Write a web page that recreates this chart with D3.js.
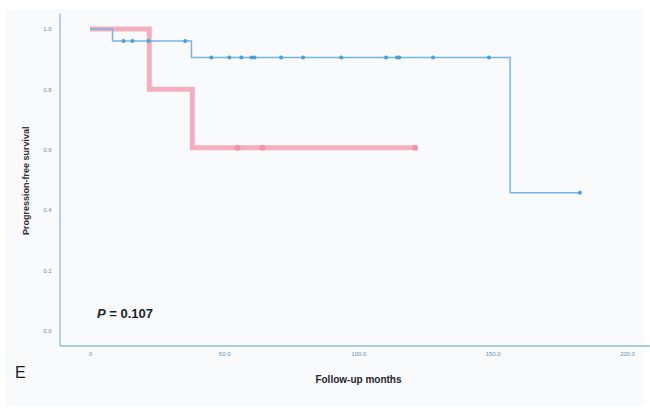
<!DOCTYPE html>
<html>
<head>
<meta charset="utf-8">
<script src="https://cdn.jsdelivr.net/npm/d3@7"></script>
<style>
  html, body { margin: 0; padding: 0; background: #ffffff; }
  svg { display: block; }
  .tick text { font-family: 'Liberation Sans', Arial, sans-serif; }
</style>
</head>
<body>
<div id="chart"></div>
<script>
// group 1 (blue)
const blueEventTimes = [0, 8.4, 37.8, 156.5];
const blueSurvival = [1.0, 0.96, 0.905, 0.457];
const blueEnd = 182.5;
const blueCensored = [12.5, 15.8, 21.8, 35.5, 45.2, 51.9, 56.4, 60.1, 61.3, 71.2, 79.4, 93.6, 110.3, 114.4, 115.2, 127.8, 148.6, 182.5];

// group 2 (red)
const redEventTimes = [0, 22.1, 38.1];
const redSurvival = [1.0, 0.8, 0.606];
const redEnd = 121.1;
const redCensored = [54.9, 64.2, 121.1];

const xTicks = [0, 50, 100, 150, 200];
const yTicks = [0, 0.2, 0.4, 0.6, 0.8, 1.0];

const width = 650, height = 411;
const margin = { left: 59.5, right: 0, top: 13, bottom: 65 };

const svg = d3.select('#chart').append('svg')
    .attr('width', width)
    .attr('height', height);

svg.append('rect')
    .attr('x', 6).attr('y', 9)
    .attr('width', width - 12).attr('height', height - 14)
    .attr('fill', '#f9fafc');

const x = d3.scaleLinear()
    .domain([-11.35, 208.6])
    .range([margin.left, width - margin.right]);
const y = d3.scaleLinear()
    .domain([-0.05, 1.053])
    .range([height - margin.bottom - 0.5, margin.top]);

const axisColor = '#8fbcd8';
const tickColor = '#6f90ad';

// axes
const xAxis = svg.append('g')
    .attr('transform', `translate(0,${y(-0.05)})`)
    .call(d3.axisBottom(x).tickValues(xTicks).tickSize(0).tickPadding(6)
        .tickFormat(d => d === 0 ? '0' : d3.format('.1f')(d)));
const yAxis = svg.append('g')
    .attr('transform', `translate(${x(-11.35)},0)`)
    .call(d3.axisLeft(y).tickValues(yTicks).tickSize(0).tickPadding(8)
        .tickFormat(d3.format('.1f')));
[xAxis, yAxis].forEach(a => {
    a.select('.domain').attr('stroke', axisColor).attr('stroke-width', 1.3);
    a.selectAll('.tick text')
        .attr('fill', tickColor)
        .style('font-size', '6px');
});

function steps(times, surv, end) {
    const pts = times.map((t, i) => ({ t: t, s: surv[i] }));
    pts.push({ t: end, s: surv[surv.length - 1] });
    return pts;
}
function survAt(times, surv, t) {
    let s = surv[0];
    times.forEach((tt, i) => { if (tt <= t) s = surv[i]; });
    return s;
}

const line = d3.line()
    .x(d => x(d.t))
    .y(d => y(d.s))
    .curve(d3.curveStepAfter);

// red group (thick)
const redColor = '#f5aebf';
svg.append('path')
    .datum(steps(redEventTimes, redSurvival, redEnd))
    .attr('d', line)
    .attr('fill', 'none')
    .attr('stroke', redColor)
    .attr('stroke-width', 5);
svg.selectAll('.red-cens')
    .data(redCensored)
    .enter().append('circle')
    .attr('cx', d => x(d))
    .attr('cy', d => y(survAt(redEventTimes, redSurvival, d)))
    .attr('r', 3)
    .attr('fill', '#f095aa');

// blue group
const blueColor = '#76b6e4';
svg.append('path')
    .datum(steps(blueEventTimes, blueSurvival, blueEnd))
    .attr('d', line)
    .attr('fill', 'none')
    .attr('stroke', blueColor)
    .attr('stroke-width', 1.5);
svg.selectAll('.blue-cens')
    .data(blueCensored)
    .enter().append('circle')
    .attr('cx', d => x(d))
    .attr('cy', d => y(survAt(blueEventTimes, blueSurvival, d)))
    .attr('r', 2)
    .attr('fill', '#4aa0dc');

// labels
svg.append('text')
    .attr('transform', `translate(26,${y(0.5) + 1}) rotate(-90)`)
    .attr('text-anchor', 'middle')
    .attr('dy', '0.35em')
    .style('font-family', "'Liberation Sans', Arial, sans-serif")
    .style('font-weight', 'bold')
    .style('font-size', '9px')
    .attr('fill', '#2b2f3a')
    .text('Progression-free survival');

svg.append('text')
    .attr('x', x(100))
    .attr('y', 383)
    .attr('text-anchor', 'middle')
    .style('font-family', "'Liberation Sans', Arial, sans-serif")
    .style('font-weight', 'bold')
    .style('font-size', '10px')
    .attr('fill', '#23262e')
    .text('Follow-up months');

const pText = svg.append('text')
    .attr('x', 97)
    .attr('y', 318)
    .style('font-family', "'Liberation Sans', Arial, sans-serif")
    .style('font-weight', 'bold')
    .style('font-size', '13px')
    .attr('fill', '#1e222b');
pText.append('tspan').style('font-style', 'italic').text('P');
pText.append('tspan').text(' = 0.107');

svg.append('text')
    .attr('x', 15)
    .attr('y', 378)
    .style('font-family', "'Liberation Sans', Arial, sans-serif")
    .style('font-size', '16px')
    .attr('fill', '#1a1a1a')
    .text('E');
</script>
</body>
</html>
